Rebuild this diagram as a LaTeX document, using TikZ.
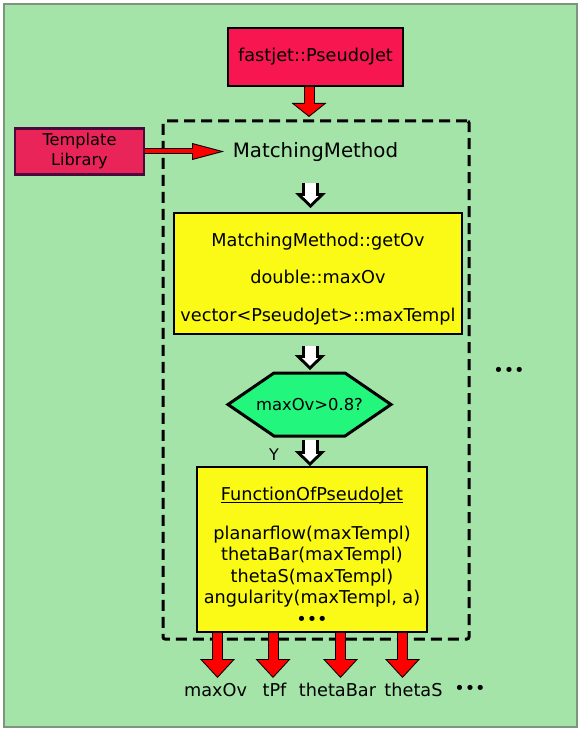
\documentclass[tikz,border=0pt]{standalone}
\usepackage{fontspec}
\setmainfont{DejaVu Sans}
\usetikzlibrary{arrows.meta}
\definecolor{pagegreen}{RGB}{164,228,168}
\definecolor{framegray}{RGB}{125,148,125}
\definecolor{jetred}{RGB}{248,22,80}
\definecolor{libred}{RGB}{233,36,88}
\definecolor{libedge}{RGB}{78,6,62}
\definecolor{boxyellow}{RGB}{250,250,22}
\definecolor{cutgreen}{RGB}{34,246,124}
\definecolor{arrowred}{RGB}{255,0,0}

\begin{document}
\begin{tikzpicture}[x=1pt,y=-1pt]
  \tikzset{every node/.style={font=\fontsize{17.7}{21}\selectfont},
    jetbox/.style={draw=black,line width=1.5pt,fill=jetred,minimum width=175pt,minimum height=58pt},
    libbox/.style={draw=libedge,line width=2.5pt,fill=libred,align=center,
      font=\fontsize{16.2}{20}\selectfont,minimum width=129pt,minimum height=46pt},
    dashbox/.style={draw=black,line width=3pt,dash pattern=on 11pt off 6pt,rounded corners=2pt},
    yellowbox/.style={draw=black,line width=1.8pt,fill=boxyellow,align=center},
    redarrow/.style={draw=arrowred,line width=9pt,shorten >=1.5pt,
      -{Triangle[length=16.5pt,width=30.4pt,line width=0pt]},
      preaction={draw=black,line width=11pt,shorten >=0pt,
        -{Triangle[length=19pt,width=35pt,line width=0pt]}}},
    redtop/.style={draw=arrowred,line width=9pt,shorten >=1.3pt,
      -{Triangle[length=11.7pt,width=29.3pt,line width=0pt]},
      preaction={draw=black,line width=11pt,shorten >=0pt,
        -{Triangle[length=14pt,width=35pt,line width=0pt]}}},
    redthin/.style={draw=arrowred,line width=4pt,shorten >=3.9pt,
      -{Triangle[length=27.1pt,width=14.4pt,line width=0pt]},
      preaction={draw=black,line width=6pt,shorten >=0pt,
        -{Triangle[length=32pt,width=17pt,line width=0pt]}}},
    whitearrow/.style={draw=white,line width=11pt,shorten >=4.2pt,
      -{Triangle[length=7.8pt,width=16.1pt,line width=0pt]},
      preaction={draw=black,line width=17pt,shorten >=0pt,
        -{Triangle[length=15pt,width=31pt,line width=0pt]}}}}
  \useasboundingbox (0,0) rectangle (581,730);
  \fill[white] (0,0) rectangle (581,730);
  \draw[line width=2pt,draw=framegray,fill=pagegreen] (4,4) rectangle (577,727);

  \node[jetbox] (fastjet) at (315.5,57) {fastjet::PseudoJet};
  \node[libbox] (library) at (79.5,151.5) {Template\\Library};
  \node[dashbox,minimum width=306pt,minimum height=518pt] (matching) at (316,380) {};
  \node[font=\fontsize{19.8}{24}\selectfont,inner xsep=8.5pt,inner ysep=21pt] (method) at (315.5,152) {MatchingMethod};
  \node[yellowbox,minimum width=288pt,minimum height=121pt] (getov) at (318,273.5)
    {\rule{0pt}{24.5pt}MatchingMethod::getOv\\[16.5pt]double::maxOv\\[16.5pt]vector<PseudoJet>::maxTempl};
  \draw[draw=black,line width=3pt,fill=cutgreen] (228,404.5) -- (274,373) -- (345,373)
    -- (391,404.5) -- (345,436) -- (274,436) -- cycle;
  \node[font=\fontsize{16.4}{20}\selectfont,minimum width=163pt,minimum height=63pt] (cut) at (309.5,404.5) {maxOv>0.8?};
  \node[font=\fontsize{16}{19}\selectfont] (yes) at (274,455) {Y};
  \node[yellowbox,font=\fontsize{17.7}{21.5}\selectfont,minimum width=230pt,minimum height=165pt] (observables) at (312,549.5)
    {\rule{0pt}{27pt}\underline{\smash{FunctionOfPseudoJet}}\\[17pt]planarflow(maxTempl)\\thetaBar(maxTempl)\\thetaS(maxTempl)\\angularity(maxTempl, a)\\•••};
  \node (moremethods) at (509,372) {•••};

  \coordinate (jetin) at (309,117);
  \coordinate (okin) at (310.5,208);
  \coordinate (cutin) at (310,370);
  \coordinate (passin) at (310,466);

  \draw[redtop] (fastjet.south -| jetin) -- (jetin);
  \draw[redthin] (library.east) -- (library.east -| method.west);
  \draw[whitearrow] (method.south -| okin) -- (okin);
  \draw[whitearrow,shorten <=11pt] (getov.south -| cutin) -- (cutin);
  \draw[whitearrow,shorten <=4pt] (cut.south -| passin) -- (passin);

  \foreach \name/\x/\lx/\txt in {maxov/217.5/215.5/maxOv,tpf/273/274.5/tPf,
      thetabar/340.5/337.5/thetaBar,thetas/402.5/413.5/thetaS} {
    \coordinate (\name tip) at (\x,678);
    \draw[redarrow] (observables.south -| \name tip) -- (\name tip);
    \node (\name) at (\lx,690) {\txt};
  }
  \node (moreout) at (470,690) {•••};
\end{tikzpicture}
\end{document}
